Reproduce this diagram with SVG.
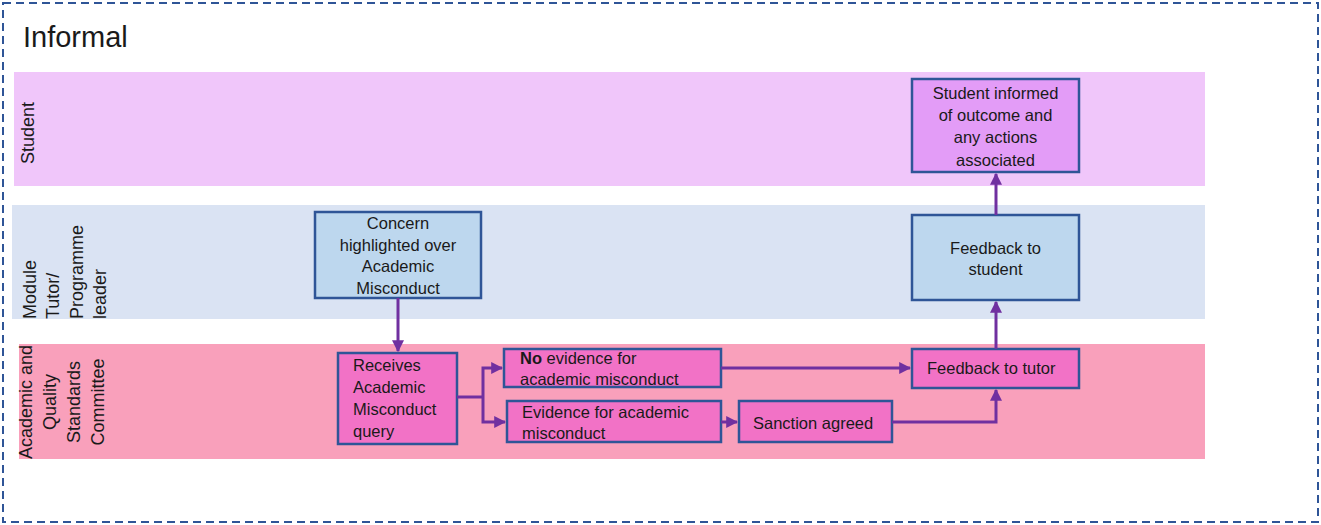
<svg xmlns="http://www.w3.org/2000/svg" width="1321" height="525" viewBox="0 0 1321 525">
<defs>
<marker id="ah" viewBox="0 0 10 10" refX="9" refY="5" markerWidth="4" markerHeight="4" markerUnits="strokeWidth" orient="auto">
<path d="M0,0 L10,5 L0,10 z" fill="#7030A0"/>
</marker>
</defs>
<style>
text{font-family:"Liberation Sans",Arial,sans-serif;fill:#1a1a1a}
.t{font-size:16.5px}
.c{text-anchor:middle}
.lane{font-size:18px}
.node{stroke:#2F5597;stroke-width:2.5}
.blue{fill:#BDD7EE}
.pink{fill:#F272C6}
.purp{fill:#E39CF7}
.conn{fill:none;stroke:#7030A0;stroke-width:3}
</style>
<rect x="3" y="3" width="1315" height="519" fill="#ffffff" stroke="#2F5597" stroke-width="2" stroke-dasharray="8,5"/>
<text x="23" y="47" font-size="29">Informal</text>
<g id="lanes">
<rect x="14" y="72" width="1191" height="114" fill="#F0C6FA"/>
<rect x="12" y="205" width="1193" height="114" fill="#DAE3F3"/>
<rect x="19" y="344" width="1186" height="115" fill="#F9A0BB"/>
<text class="lane c" transform="translate(34,133) rotate(-90)">Student</text>
<g transform="translate(0,319) rotate(-90)">
<text class="lane" x="0" y="36">Module</text>
<text class="lane" x="0" y="59">Tutor/</text>
<text class="lane" x="0" y="83">Programme</text>
<text class="lane" x="0" y="106">leader</text>
</g>
<g transform="translate(0,402) rotate(-90)">
<text class="lane c" x="0" y="32">Academic and</text>
<text class="lane c" x="0" y="56">Quality</text>
<text class="lane c" x="0" y="80">Standards</text>
<text class="lane c" x="0" y="104">Committee</text>
</g>
</g>
<g id="n-concern">
<rect class="node blue" x="315" y="212" width="166" height="86"/>
<text class="t c" x="398" y="229">Concern</text>
<text class="t c" x="398" y="250.5">highlighted over</text>
<text class="t c" x="398" y="272">Academic</text>
<text class="t c" x="398" y="294">Misconduct</text>
</g>
<g id="n-receives">
<rect class="node pink" x="338" y="353" width="119" height="91"/>
<text class="t" x="353" y="371">Receives</text>
<text class="t" x="353" y="393">Academic</text>
<text class="t" x="353" y="414.5">Misconduct</text>
<text class="t" x="353" y="437">query</text>
</g>
<g id="n-noevidence">
<rect class="node pink" x="504" y="349" width="217" height="38"/>
<text class="t" x="520" y="364"><tspan font-weight="bold">No</tspan> evidence for</text>
<text class="t" x="520" y="385">academic misconduct</text>
</g>
<g id="n-evidence">
<rect class="node pink" x="507" y="401" width="214" height="41"/>
<text class="t" x="522" y="418">Evidence for academic</text>
<text class="t" x="522" y="439">misconduct</text>
</g>
<g id="n-sanction">
<rect class="node pink" x="739" y="401" width="153" height="41"/>
<text class="t" x="753" y="429">Sanction agreed</text>
</g>
<g id="n-fbtutor">
<rect class="node pink" x="912" y="349" width="167" height="39"/>
<text class="t" x="927" y="374">Feedback to tutor</text>
</g>
<g id="n-fbstudent">
<rect class="node blue" x="912" y="215" width="167" height="85"/>
<text class="t c" x="995.5" y="254">Feedback to</text>
<text class="t c" x="995.5" y="275">student</text>
</g>
<g id="n-informed">
<rect class="node purp" x="912" y="79" width="167" height="93"/>
<text class="t c" x="995.5" y="99">Student informed</text>
<text class="t c" x="995.5" y="121">of outcome and</text>
<text class="t c" x="995.5" y="143">any actions</text>
<text class="t c" x="995.5" y="166">associated</text>
</g>
<g id="connectors">
<path class="conn" d="M398,298 V351" marker-end="url(#ah)"/>
<path class="conn" d="M457,397 H483" stroke-width="5"/>
<path class="conn" d="M483,397 V368 H502" marker-end="url(#ah)"/>
<path class="conn" d="M483,397 V422 H505" marker-end="url(#ah)"/>
<path class="conn" d="M721,368 H910" marker-end="url(#ah)"/>
<path class="conn" d="M721,422 H737" marker-end="url(#ah)"/>
<path class="conn" d="M892,422 H996 V390" marker-end="url(#ah)"/>
<path class="conn" d="M996,349 V302" marker-end="url(#ah)"/>
<path class="conn" d="M996,215 V174" marker-end="url(#ah)"/>
</g>
</svg>
